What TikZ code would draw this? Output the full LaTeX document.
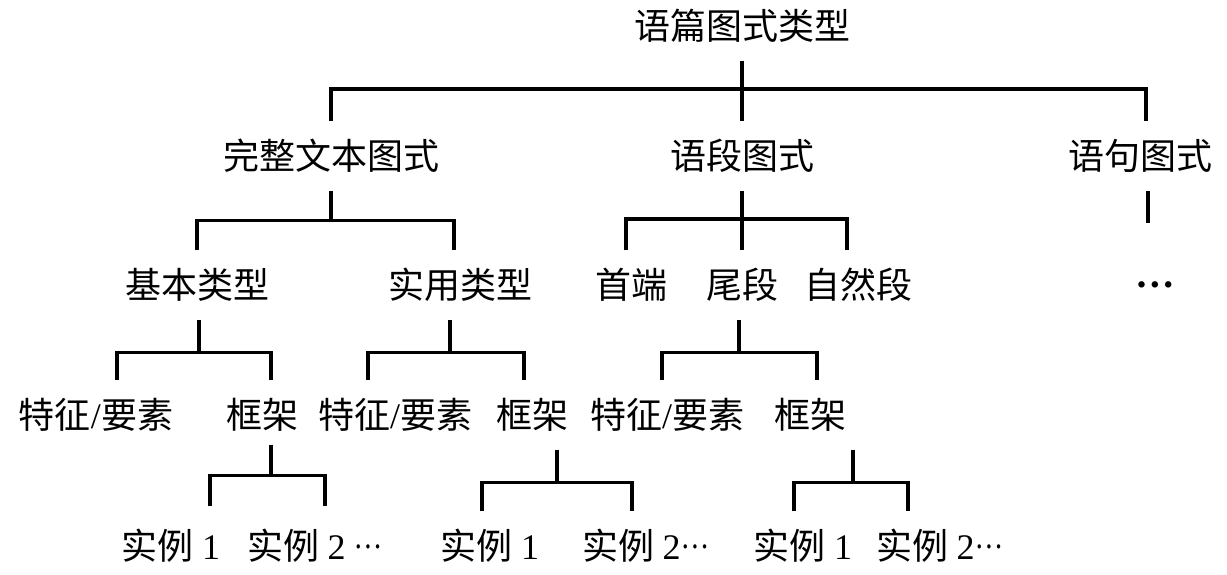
\documentclass[tikz,border=0pt]{standalone}
\usepackage{fontspec}
\setmainfont{Liberation Serif}
\newfontfamily\cjk{Noto Sans CJK SC}
\newcommand\lat[1]{{\rmfamily #1}}
\newcommand\mdd{\raisebox{0.3em}{\rmfamily\scalebox{0.8}[1]{…}}}
\usepackage{tikz}
\usetikzlibrary{calc}

\begin{document}
\begin{tikzpicture}[x=0.5pt, y=-0.5pt, line width=1.6pt,
    lbl/.style={font=\cjk\fontsize{18}{18}\selectfont, inner sep=0pt,
        text height=15.8pt, text depth=2.2pt, minimum height=33pt}]
    \useasboundingbox (0,0) rectangle (1227,574);

    % Tầng 0, 1
    \node [lbl] (top) at (742,26) {语篇图式类型};
    \node [lbl] (wb) at (331,156) {完整文本图式};
    \node [lbl] (yd) at (742,156) {语段图式};
    \node [lbl] (yj) at (1140,156) {语句图式};

    % Tầng 2
    \node [lbl] (jb) at (197,285) {基本类型};
    \node [lbl] (sy) at (460,285) {实用类型};
    \node [lbl] (sd) at (631,285) {首端};
    \node [lbl] (wd) at (742,285) {尾段};
    \node [lbl] (zr) at (858,285) {自然段};
    \node [lbl] (dd) at (1155,283) {\raisebox{0.25em}{\rmfamily\scalebox{1.1}{\textbf{…}}}};

    % Tầng 3
    \node [lbl] (tz1) at (96,415) {特征\lat{/}要素};
    \node [lbl] (kj1) at (262,415) {框架};
    \node [lbl] (tz2) at (395,415) {特征\lat{/}要素};
    \node [lbl] (kj2) at (532,415) {框架};
    \node [lbl] (tz3) at (667,415) {特征\lat{/}要素};
    \node [lbl] (kj3) at (810,415) {框架};

    % Tầng 4
    \node [lbl] (s11) at (171,546) {实例 \lat{1}};
    \node [lbl] (s12) at (315,546) {实例 \lat{2} \mdd};
    \node [lbl] (s21) at (490,546) {实例 \lat{1}};
    \node [lbl] (s22) at (646,546) {实例 \lat{2}\mdd};
    \node [lbl] (s31) at (803,546) {实例 \lat{1}};
    \node [lbl] (s32) at (940,546) {实例 \lat{2}\mdd};

    % Nối tầng 0 - 1
    \draw (top.south) -- (yd.north);
    \coordinate (b0) at (top.south |- 0,89);
    \draw (wb.north) |- (b0) -| ($(yj.north)+(6,0)$);

    % Nối tầng 1 - 2
    \draw (wb.south) -- ++(0,30) coordinate (b1);
    \draw (jb.north) |- (b1) -| ($(sy.north)+(-6,0)$);
    \draw (yd.south) -- (wd.north);
    \coordinate (b2) at (yd.south |- 0,219);
    \draw ($(sd.north)+(-5,0)$) |- (b2) -| ($(zr.north)+(-11,0)$);
    \draw ($(yj.south)+(8,0)$) -- ++(0,32);

    % Nối tầng 2 - 3
    \draw ($(jb.south)+(2,0)$) -- ++(0,33) coordinate (b3);
    \draw ($(tz1.north)+(21,0)$) |- (b3) -| ($(kj1.north)+(9,0)$);
    \draw ($(sy.south)+(-10,0)$) -- ++(0,33) coordinate (b4);
    \draw ($(tz2.north)+(-27,0)$) |- (b4) -| ($(kj2.north)+(-8,0)$);
    \draw ($(wd.south)+(-3,0)$) -- ++(0,33) coordinate (b5);
    \draw ($(tz3.north)+(-5,0)$) |- (b5) -| ($(kj3.north)+(7,0)$);

    % Nối tầng 3 - 4
    \draw ($(kj1.south)+(9,-5)$) -- ++(0,31) coordinate (b6);
    \draw ($(s11.north)+(39,-5)$) |- (b6) -| ($(s12.north)+(10,-5)$);
    \draw ($(kj2.south)+(25,0)$) -- ++(0,33) coordinate (b7);
    \draw ($(s21.north)+(-8,0)$) |- (b7) -| ($(s22.north)+(-14,0)$);
    \draw ($(kj3.south)+(43,0)$) -- ++(0,33) coordinate (b8);
    \draw ($(s31.north)+(-9,0)$) |- (b8) -| ($(s32.north)+(-32,0)$);

\end{tikzpicture}
\end{document}
